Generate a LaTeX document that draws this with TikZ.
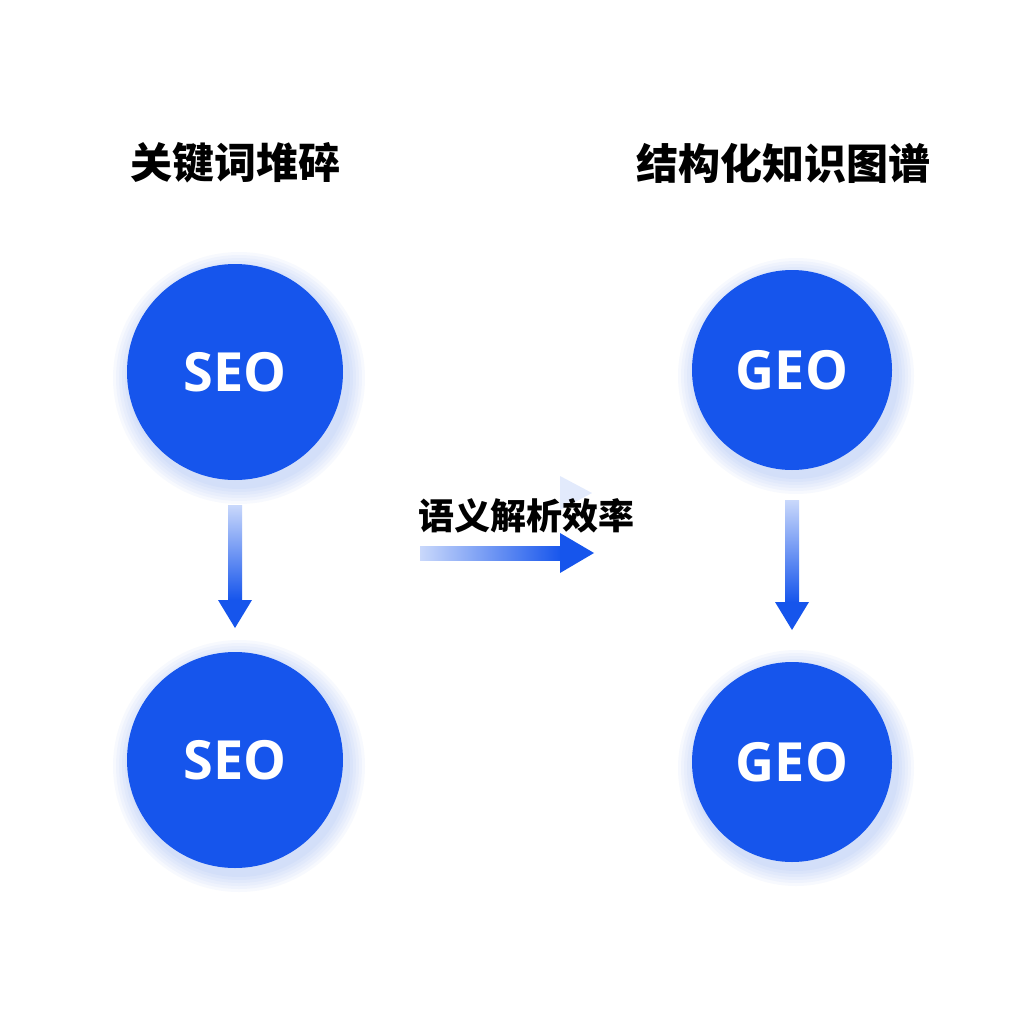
\documentclass[tikz,border=0pt]{standalone}
\usepackage{fontspec}
\setmainfont{Open Sans}
\newfontfamily\cjk{Noto Sans CJK SC}
\begin{document}
\begin{tikzpicture}[x=1pt,y=-1pt]
\definecolor{blu}{HTML}{1655EC}
\definecolor{lblu}{HTML}{C9D8FB}
\tikzset{
 circ/.style={circle,fill=blu,minimum size=#1,inner sep=0pt,text=white,font=\bfseries\fontsize{54}{54}\selectfont},
 ttl/.style={font=\cjk\bfseries\fontsize{42}{44}\selectfont},
 glow/.style={fill=blu,opacity=0.03}
}
\useasboundingbox (0,0) rectangle (1024,1024);
\fill[white] (0,0) rectangle (1024,1024);
% glows
\foreach \x/\y/\r in {235/372/108,235/760/108,792/370/100,792/762/100}{
 \foreach \d in {3,6,9,12,15,18}{\fill[glow] (\x+4,\y+6) circle (\r+\d);}
}
\node[circ=216pt] (s1) at (235,372) {SEO};
\node[circ=216pt] (s2) at (235,760) {SEO};
\node[circ=200pt] (g1) at (792,370) {GEO};
\node[circ=200pt] (g2) at (792,762) {GEO};
\node[ttl] (t1) at (235,163) {关键词堆碎};
\node[ttl] (t2) at (783,163) {结构化知识图谱};
% vertical arrows
\coordinate (a1) at (235,505); \coordinate (a2) at (235,628);
\shade[top color=lblu,bottom color=blu] (228,505) rectangle (242,600);
\fill[blu] (218,600) -- (252,600) -- (a2) -- cycle;
\coordinate (b1) at (792,500); \coordinate (b2) at (792,630);
\shade[top color=lblu,bottom color=blu] (785,500) rectangle (799,602);
\fill[blu] (775,602) -- (809,602) -- (b2) -- cycle;
% horizontal arrow
\coordinate (h1) at (420,553); \coordinate (h2) at (594,553);
\shade[left color=lblu,right color=blu] (420,546) rectangle (562,560);
\fill[blu] (560,533) -- (560,573) -- (h2) -- cycle;
\fill[blu,opacity=0.12] (560,476) -- (560,510) -- (592,493) -- cycle;
\node[font=\cjk\bfseries\fontsize{36}{38}\selectfont] (lab) at (526,516) {语义解析效率};
\end{tikzpicture}
\end{document}
